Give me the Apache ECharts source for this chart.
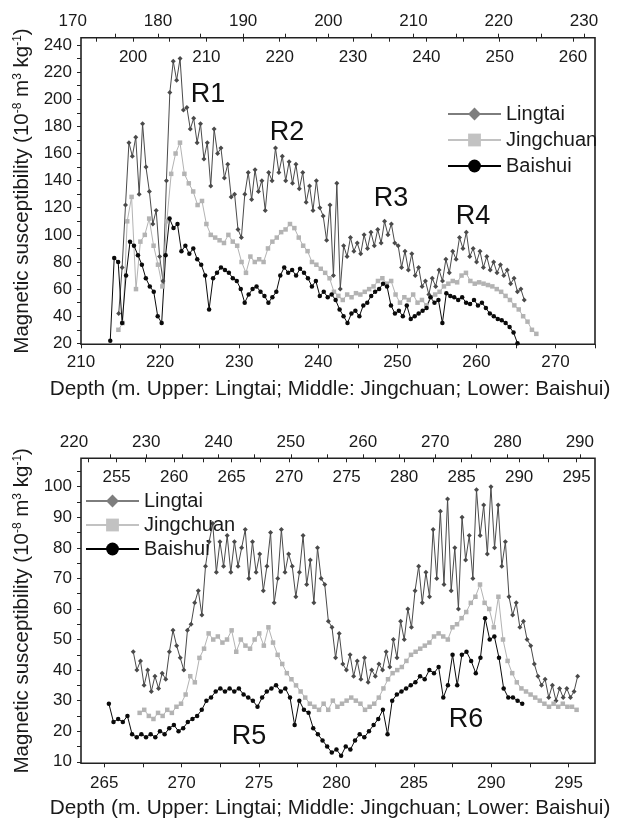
<!DOCTYPE html>
<html><head><meta charset="utf-8">
<script src="https://cdn.jsdelivr.net/npm/echarts@6/dist/echarts.min.js"></script>
<style>html,body{margin:0;padding:0;background:#fff}#c{width:623px;height:821px}</style>
</head><body><div id="c"></div>
<script>
// ---------------- DATA ----------------
const seriesNames = ['Lingtai', 'Jingchuan', 'Baishui'];
const regionLabels = ['R1', 'R2', 'R3', 'R4', 'R5', 'R6'];

// Upper panel
const lingtaiTopDepth = [175.4,175.8,176.2,176.6,177.0,177.4,177.8,178.2,178.6,179.0,
179.4,179.8,180.2,180.6,181.0,181.4,181.8,182.2,182.6,183.0,
183.4,183.8,184.2,184.6,185.0,185.4,185.8,186.2,186.6,187.0,
187.4,187.8,188.2,188.6,189.0,189.4,189.8,190.2,190.6,191.0,
191.4,191.8,192.2,192.6,193.0,193.4,193.8,194.2,194.6,195.0,
195.4,195.8,196.2,196.6,197.0,197.4,197.8,198.2,198.6,199.0,
199.4,199.8,200.2,200.6,201.0,201.4,201.8,202.2,202.6,203.0,
203.4,203.8,204.2,204.6,205.0,205.4,205.8,206.2,206.6,207.0,
207.4,207.8,208.2,208.6,209.0,209.4,209.8,210.2,210.6,211.0,
211.4,211.8,212.2,212.6,213.0,213.4,213.8,214.2,214.6,215.0,
215.4,215.8,216.2,216.6,217.0,217.4,217.8,218.2,218.6,219.0,
219.4,219.8,220.2,220.6,221.0,221.4,221.8,222.2,222.6,223.0];
const lingtaiTopValue = [42,76,122,168,158,172,130,182,150,132,
108,118,84,66,140,205,228,214,230,192,
194,178,186,168,182,156,168,136,178,160,
164,142,152,128,130,104,98,130,146,126,
148,132,140,118,146,140,164,146,158,140,
154,138,152,134,146,124,136,118,140,120,
114,96,122,70,138,60,92,84,98,88,
94,86,100,90,102,92,104,94,110,100,
108,94,92,76,88,74,86,70,76,62,
66,56,68,62,74,66,82,72,88,82,
98,90,102,84,90,80,88,76,84,74,
80,72,78,70,74,64,68,58,60,52];

const jingchuanTopDepth = [198.0,198.6,199.2,199.8,200.4,201.0,201.6,202.2,202.8,203.4,
204.0,204.6,205.2,205.8,206.4,207.0,207.6,208.2,208.8,209.4,
210.0,210.6,211.2,211.8,212.4,213.0,213.6,214.2,214.8,215.4,
216.0,216.6,217.2,217.8,218.4,219.0,219.6,220.2,220.8,221.4,
222.0,222.6,223.2,223.8,224.4,225.0,225.6,226.2,226.8,227.4,
228.0,228.6,229.2,229.8,230.4,231.0,231.6,232.2,232.8,233.4,
234.0,234.6,235.2,235.8,236.4,237.0,237.6,238.2,238.8,239.4,
240.0,240.6,241.2,241.8,242.4,243.0,243.6,244.2,244.8,245.4,
246.0,246.6,247.2,247.8,248.4,249.0,249.6,250.2,250.8,251.4,
252.0,252.6,253.2,253.8,254.4,255.0];
const jingchuanTopValue = [30,35,110,128,60,95,100,112,92,78,
62,110,145,160,168,145,138,132,122,125,
108,100,98,96,94,100,95,92,80,72,
84,80,82,80,90,95,98,102,104,108,
105,98,92,88,80,78,75,72,68,58,
55,52,56,54,57,56,58,60,62,66,
68,64,66,56,50,54,52,56,50,52,
48,54,56,58,62,64,66,65,70,72,
66,64,65,64,63,62,60,58,55,52,
48,45,40,36,30,27];

const baishuiTopDepth = [213.7,214.2,214.7,215.2,215.7,216.2,216.7,217.2,217.7,218.2,
218.7,219.2,219.7,220.2,220.7,221.2,221.7,222.2,222.7,223.2,
223.7,224.2,224.7,225.2,225.7,226.2,226.7,227.2,227.7,228.2,
228.7,229.2,229.7,230.2,230.7,231.2,231.7,232.2,232.7,233.2,
233.7,234.2,234.7,235.2,235.7,236.2,236.7,237.2,237.7,238.2,
238.7,239.2,239.7,240.2,240.7,241.2,241.7,242.2,242.7,243.2,
243.7,244.2,244.7,245.2,245.7,246.2,246.7,247.2,247.7,248.2,
248.7,249.2,249.7,250.2,250.7,251.2,251.7,252.2,252.7,253.2,
253.7,254.2,254.7,255.2,255.7,256.2,256.7,257.2,257.7,258.2,
258.7,259.2,259.7,260.2,260.7,261.2,261.7,262.2,262.7,263.2,
263.7,264.2,264.7,265.2];
const baishuiTopValue = [22,83,80,35,70,95,92,85,78,68,
62,58,40,35,85,112,105,108,88,92,
86,90,82,78,70,45,68,72,76,74,
72,68,66,60,50,56,60,62,58,55,
50,54,58,70,76,72,74,70,75,72,
68,62,66,55,58,54,56,52,45,40,
35,42,44,40,48,50,55,58,60,64,
62,48,42,44,40,48,38,40,42,44,
46,54,50,52,35,57,55,54,52,54,
50,49,52,48,50,46,42,40,38,37,
35,32,28,20];

// Lower panel
const lingtaiLowDepth = [228.2,228.7,229.2,229.7,230.2,230.7,231.2,231.7,232.2,232.7,
233.2,233.7,234.2,234.7,235.2,235.7,236.2,236.7,237.2,237.7,
238.2,238.7,239.2,239.7,240.2,240.7,241.2,241.7,242.2,242.7,
243.2,243.7,244.2,244.7,245.2,245.7,246.2,246.7,247.2,247.7,
248.2,248.7,249.2,249.7,250.2,250.7,251.2,251.7,252.2,252.7,
253.2,253.7,254.2,254.7,255.2,255.7,256.2,256.7,257.2,257.7,
258.2,258.7,259.2,259.7,260.2,260.7,261.2,261.7,262.2,262.7,
263.2,263.7,264.2,264.7,265.2,265.7,266.2,266.7,267.2,267.7,
268.2,268.7,269.2,269.7,270.2,270.7,271.2,271.7,272.2,272.7,
273.2,273.7,274.2,274.7,275.2,275.7,276.2,276.7,277.2,277.7,
278.2,278.7,279.2,279.7,280.2,280.7,281.2,281.7,282.2,282.7,
283.2,283.7,284.2,284.7,285.2,285.7,286.2,286.7,287.2,287.7,
288.2,288.7,289.2,289.7];
const lingtaiLowValue = [46,40,43,35,40,33,38,34,39,37,
46,53,48,44,40,53,55,62,66,58,
74,82,88,72,82,74,84,72,82,74,
80,86,70,82,72,78,66,74,85,62,
70,86,72,78,74,64,72,84,68,76,
62,80,70,68,56,54,44,52,42,40,
45,38,43,37,44,36,40,38,42,40,
46,41,50,44,56,50,60,54,66,74,
62,72,64,86,70,92,68,96,66,80,
60,90,76,84,70,99,84,94,78,100,
80,94,74,82,64,58,62,54,56,50,
48,42,38,35,37,31,35,30,34,31,
34,31,33,38];

const jingchuanLowDepth = [257.0,257.4,257.8,258.2,258.6,259.0,259.4,259.8,260.2,260.6,
261.0,261.4,261.8,262.2,262.6,263.0,263.4,263.8,264.2,264.6,
265.0,265.4,265.8,266.2,266.6,267.0,267.4,267.8,268.2,268.6,
269.0,269.4,269.8,270.2,270.6,271.0,271.4,271.8,272.2,272.6,
273.0,273.4,273.8,274.2,274.6,275.0,275.4,275.8,276.2,276.6,
277.0,277.4,277.8,278.2,278.6,279.0,279.4,279.8,280.2,280.6,
281.0,281.4,281.8,282.2,282.6,283.0,283.4,283.8,284.2,284.6,
285.0,285.4,285.8,286.2,286.6,287.0,287.4,287.8,288.2,288.6,
289.0,289.4,289.8,290.2,290.6,291.0,291.4,291.8,292.2,292.6,
293.0,293.4,293.8,294.2,294.6,295.0];
const jingchuanLowValue = [26,27,25,24,26,25,27,26,28,29,
32,38,36,44,47,52,50,51,49,50,
53,46,50,48,47,50,52,48,54,49,
45,42,39,37,35,33,31,29,28,27,
29,27,30,28,29,30,31,30,29,27,
28,29,31,34,37,39,40,41,43,45,
46,47,48,49,51,52,51,50,54,55,
57,59,62,64,68,62,60,54,64,50,
43,39,36,34,33,32,31,30,29,28,
29,28,29,28,28,27];

const baishuiLowDepth = [265.3,265.6,265.9,266.2,266.5,266.8,267.1,267.4,267.7,268.0,
268.3,268.6,268.9,269.2,269.5,269.8,270.1,270.4,270.7,271.0,
271.3,271.6,271.9,272.2,272.5,272.8,273.1,273.4,273.7,274.0,
274.3,274.6,274.9,275.2,275.5,275.8,276.1,276.4,276.7,277.0,
277.3,277.6,277.9,278.2,278.5,278.8,279.1,279.4,279.7,280.0,
280.3,280.6,280.9,281.2,281.5,281.8,282.1,282.4,282.7,283.0,
283.3,283.6,283.9,284.2,284.5,284.8,285.1,285.4,285.7,286.0,
286.3,286.6,286.9,287.2,287.5,287.8,288.1,288.4,288.7,289.0,
289.3,289.6,289.9,290.2,290.5,290.8,291.1,291.4,291.7,292.0];
const baishuiLowValue = [29,23,24,23,25,19,18,19,18,19,
18,20,19,21,22,20,21,23,24,25,
27,30,31,33,34,33,34,33,34,32,
31,30,28,31,33,34,35,33,34,31,
22,30,27,26,21,19,17,15,13,14,
12,15,14,17,19,18,20,22,24,27,
19,30,32,33,34,35,36,38,37,40,
39,41,31,35,45,35,45,46,43,39,
44,57,50,51,44,34,31,31,30,29];

// Tick labels
const topBaishuiLabels = [210,220,230,240,250,260,270];
const topBaishuiTicks = [210,215,220,225,230,235,240,245,250,255,260,265,270,275];
const topJingchuanLabels = [200,210,220,230,240,250,260];
const topJingchuanTicks = [195,200,205,210,215,220,225,230,235,240,245,250,255,260];
const topLingtaiLabels = [170,180,190,200,210,220,230];
const topLingtaiTicks = [175,180,185,190,195,200,205,210,215,220,225,230];
const topYLabels = [20,40,60,80,100,120,140,160,180,200,220,240];
const topYTicks = [20,30,40,50,60,70,80,90,100,110,120,130,140,150,160,170,180,190,200,210,220,230,240];

const lowBaishuiLabels = [265,270,275,280,285,290,295];
const lowBaishuiTicks = [265,267.5,270,272.5,275,277.5,280,282.5,285,287.5,290,292.5,295];
const lowJingchuanLabels = [255,260,265,270,275,280,285,290,295];
const lowJingchuanTicks = [252.5,255,257.5,260,262.5,265,267.5,270,272.5,275,277.5,280,282.5,285,287.5,290,292.5,295];
const lowLingtaiLabels = [220,230,240,250,260,270,280,290];
const lowLingtaiTicks = [225,230,235,240,245,250,255,260,265,270,275,280,285,290];
const lowYLabels = [10,20,30,40,50,60,70,80,90,100];
const lowYTicks = [10,15,20,25,30,35,40,45,50,55,60,65,70,75,80,85,90,95,100,105];

// ---------------- CHART ----------------
const FONT = '"Liberation Sans", Arial, Helvetica, sans-serif';
const TXT = '#1a1a1a';
const zip = (d, v) => d.map((x, i) => [x, v[i]]);

const colors = { Lingtai: '#4a4a4a', Jingchuan: '#b3b3b3', Baishui: '#0a0a0a' };
const symbols = { Lingtai: 'diamond', Jingchuan: 'rect', Baishui: 'circle' };
const symSize = { Lingtai: 5, Jingchuan: 4.5, Baishui: 4.5 };

function xAx(grid, pos, min, max, labels, ticks, o) {
  return {
    type: 'value', gridIndex: grid, position: pos, min: min, max: max,
    axisLine: { show: false },
    splitLine: { show: false },
    axisTick: { show: true, inside: !!o.inside, length: 4, customValues: ticks,
      lineStyle: { color: '#222', width: 1 } },
    axisLabel: { show: true, inside: !!o.inside, margin: o.margin, customValues: labels,
      fontSize: 17, fontFamily: FONT, color: TXT },
    name: o.name || '', nameLocation: 'middle', nameGap: o.nameGap || 0,
    nameTextStyle: { fontSize: 20.8, fontFamily: FONT, color: TXT, padding: [0, 16, 0, 0] }
  };
}
const xTitle = 'Depth (m. Upper: Lingtai; Middle: Jingchuan; Lower: Baishui)';
const yName = '{n|Magnetic susceptibility (10}{s|-8}{n| m}{s|3}{n| kg}{s|-1}{n|)}';

function yAx(grid, min, max, labels, ticks, show) {
  return {
    type: 'value', gridIndex: grid, min: min, max: max, show: show,
    axisLine: { show: false },
    splitLine: { show: false },
    axisTick: { show: true, length: 4, customValues: ticks, lineStyle: { color: '#222' } },
    axisLabel: { show: true, margin: 9, customValues: labels, fontSize: 17, fontFamily: FONT, color: TXT },
    name: show ? yName : '', nameLocation: 'middle', nameGap: 44,
    nameTextStyle: { fontFamily: FONT, color: TXT,
      rich: { n: { fontSize: 20.5, fontFamily: FONT, color: TXT },
              s: { fontSize: 12, fontFamily: FONT, color: TXT, verticalAlign: 'top' } } }
  };
}

function ser(name, xi, yi, d, v) {
  return {
    name: name, type: 'line', xAxisIndex: xi, yAxisIndex: yi,
    data: zip(d, v), symbol: symbols[name], symbolSize: symSize[name],
    showSymbol: true, showAllSymbol: true, clip: true,
    lineStyle: { width: 1, color: colors[name] },
    itemStyle: { color: colors[name] },
    emphasis: { disabled: true }, animation: false
  };
}

const legendData = [
  { name: 'Lingtai', itemStyle: { color: '#7d7d7d' }, lineStyle: { color: '#7d7d7d', width: 2 } },
  { name: 'Jingchuan', itemStyle: { color: '#c2c2c2' }, lineStyle: { color: '#c2c2c2', width: 2 } },
  { name: 'Baishui', itemStyle: { color: '#000' }, lineStyle: { color: '#000', width: 2 } }
];
function legend(left, top, gap) {
  return { orient: 'vertical', left: left, top: top, itemWidth: 53, itemHeight: 16, itemGap: gap,
    data: legendData, selectedMode: false,
    textStyle: { fontSize: 20, fontFamily: FONT, color: TXT } };
}

function lbl(text, x, y) {
  return { type: 'text', x: x, y: y, silent: true, z: 100,
    style: { text: text, fill: '#111', font: '27px ' + FONT,
      align: 'center', verticalAlign: 'middle', textAlign: 'center', textVerticalAlign: 'middle' } };
}

const option = {
  backgroundColor: '#fff',
  animation: false,
  grid: [
    { left: 81, right: 28, top: 37.7, height: 306.6, show: true, borderColor: '#222', borderWidth: 1.6, backgroundColor: 'transparent' },
    { left: 72.7, right: 28, top: 37.7, height: 306.6, show: false },
    { left: 81, right: 28, top: 458.3, height: 305, show: true, borderColor: '#222', borderWidth: 1.6, backgroundColor: 'transparent' },
    { left: 74, right: 28, top: 458.3, height: 305, show: false }
  ],
  xAxis: [
    xAx(0, 'bottom', 210, 275, topBaishuiLabels, topBaishuiTicks, { margin: 10, name: xTitle, nameGap: 34 }),
    xAx(0, 'top', 192.9, 263.0, topJingchuanLabels, topJingchuanTicks, { inside: true, margin: 11 }),
    xAx(1, 'top', 170, 231.3, topLingtaiLabels, topLingtaiTicks, { margin: 8 }),
    xAx(2, 'bottom', 263.5, 296.7, lowBaishuiLabels, lowBaishuiTicks, { margin: 12, name: xTitle, nameGap: 34 }),
    xAx(2, 'top', 251.9, 296.6, lowJingchuanLabels, lowJingchuanTicks, { inside: true, margin: 11 }),
    xAx(3, 'top', 220, 292.1, lowLingtaiLabels, lowLingtaiTicks, { margin: 7 })
  ],
  yAxis: [
    yAx(0, 19.3, 245.4, topYLabels, topYTicks, true),
    yAx(1, 19.3, 245.4, [], [], false),
    yAx(2, 9.5, 109.3, lowYLabels, lowYTicks, true),
    yAx(3, 9.5, 109.3, [], [], false)
  ],
  legend: [legend(442, 99, 6), legend(80, 486, 4)],
  series: [
    ser('Lingtai', 2, 1, lingtaiTopDepth, lingtaiTopValue),
    ser('Jingchuan', 1, 0, jingchuanTopDepth, jingchuanTopValue),
    ser('Baishui', 0, 0, baishuiTopDepth, baishuiTopValue),
    ser('Lingtai', 5, 3, lingtaiLowDepth, lingtaiLowValue),
    ser('Jingchuan', 4, 2, jingchuanLowDepth, jingchuanLowValue),
    ser('Baishui', 3, 2, baishuiLowDepth, baishuiLowValue)
  ],
  graphic: [
    lbl(regionLabels[0], 208, 95),
    lbl(regionLabels[1], 287, 133),
    lbl(regionLabels[2], 391, 199),
    lbl(regionLabels[3], 473, 217),
    lbl(regionLabels[4], 249, 737),
    lbl(regionLabels[5], 466, 720)
  ]
};

const chart = echarts.init(document.getElementById('c'), null, { renderer: 'canvas' });
chart.setOption(option);
</script></body></html>
